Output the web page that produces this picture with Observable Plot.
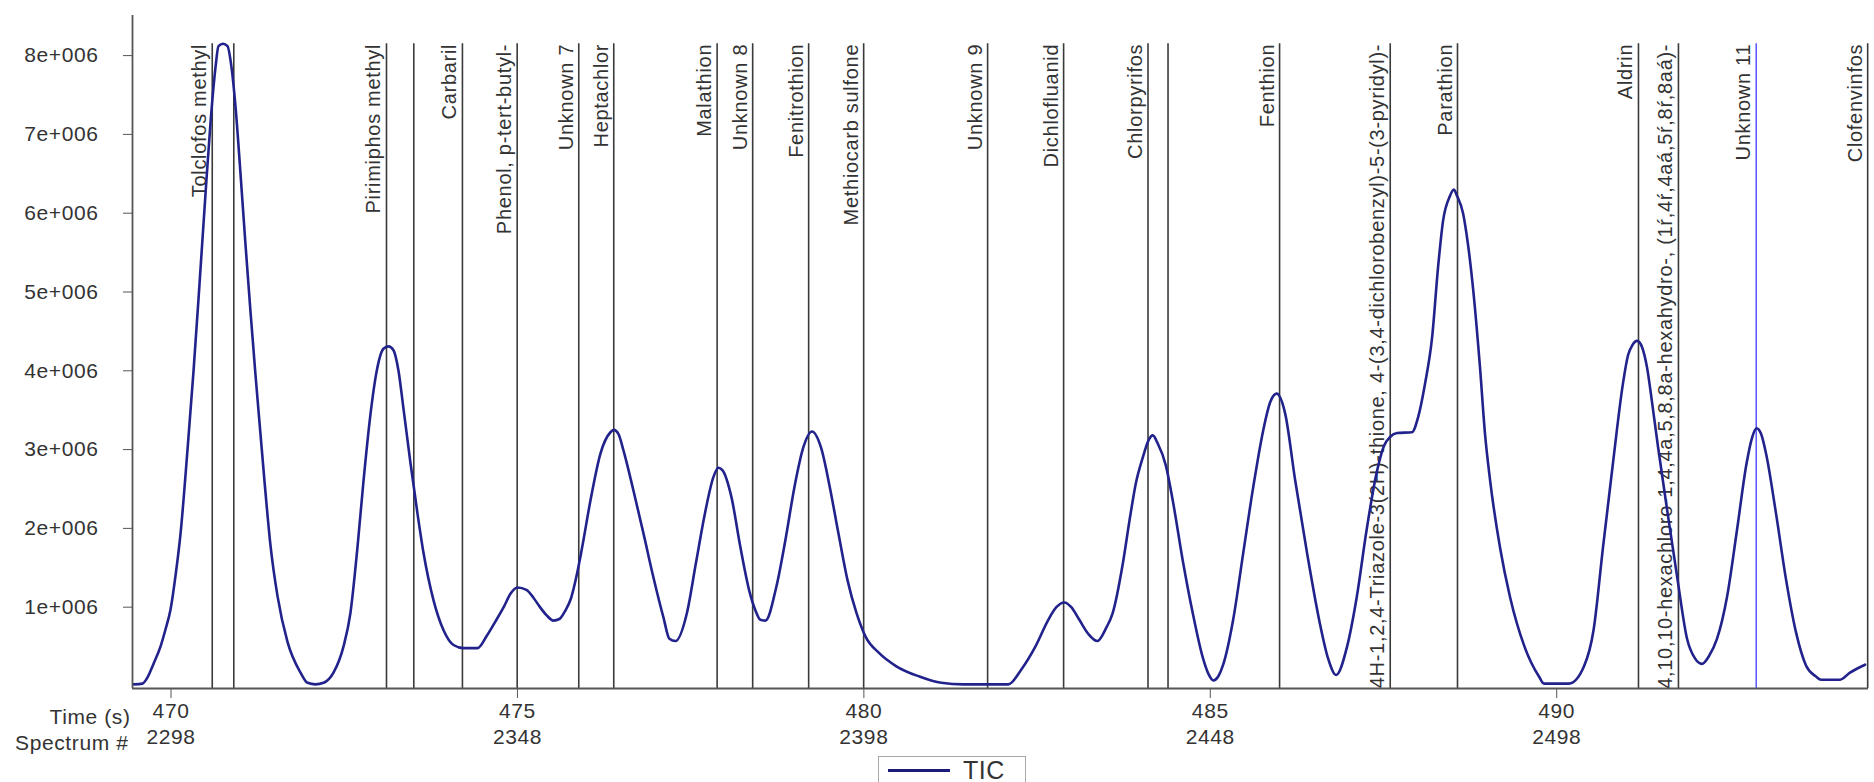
<!DOCTYPE html>
<html>
<head>
<meta charset="utf-8">
<script src="https://cdn.jsdelivr.net/npm/d3@7"></script>
<script src="https://cdn.jsdelivr.net/npm/@observablehq/plot@0.6"></script>
<style>
  html, body { margin: 0; padding: 0; background: #fff; }
  body { width: 1874px; height: 782px; overflow: hidden; position: relative; font-family: "Liberation Sans", Arial, sans-serif; }
  #legend { position: absolute; left: 878px; top: 756px; width: 148px; height: 26px; border: 1px solid #a8a8a8; border-bottom: none; box-sizing: border-box; background: #fff; }
  #legend .swatch { position: absolute; left: 9px; top: 12px; width: 62px; height: 3px; background: #1c1c78; }
  #legend .lbl { position: absolute; left: 84px; top: 2px; font-size: 25px; color: #333; line-height: 22px; letter-spacing: 0.5px; }
</style>
</head>
<body>
<div id="chart"></div>
<div id="legend"><div class="swatch"></div><div class="lbl">TIC</div></div>
<script>
// Time (s) of each sampled point of the TIC trace
const times = [
  469.459,469.589,469.661,469.747,469.848,469.921,469.993,470.065,470.137,470.238,
  470.325,470.411,470.498,470.570,470.642,470.685,470.750,470.815,470.873,470.931,
  471.003,471.075,471.147,471.219,471.291,471.349,471.436,471.537,471.681,471.869,
  471.970,472.085,472.201,472.345,472.489,472.590,472.691,472.778,472.879,472.965,
  473.066,473.139,473.211,473.283,473.355,473.456,473.557,473.644,473.788,473.932,
  474.077,474.221,474.423,474.553,474.683,474.807,474.899,475.000,475.130,475.231,
  475.318,475.418,475.519,475.606,475.693,475.772,475.861,475.934,476.053,476.198,
  476.342,476.390,476.457,476.530,476.674,476.818,476.962,477.107,477.193,477.280,
  477.447,477.576,477.706,477.828,477.900,477.958,478.088,478.218,478.348,478.434,
  478.506,478.579,478.737,478.867,478.997,479.127,479.251,479.380,479.509,479.632,
  479.762,479.892,480.022,480.218,480.469,480.801,481.118,481.436,482.085,482.273,
  482.475,482.662,482.778,482.893,482.994,483.110,483.240,483.369,483.499,483.590,
  483.737,483.834,483.925,484.026,484.110,484.170,484.240,484.358,484.459,484.603,
  484.748,484.892,484.975,485.045,485.120,485.186,485.330,485.474,485.619,485.763,
  485.864,485.958,486.080,486.225,486.398,486.580,486.700,486.816,486.974,487.114,
  487.256,487.399,487.508,487.595,487.696,487.912,487.999,488.100,488.201,488.287,
  488.359,488.460,488.515,488.561,488.648,488.720,488.792,488.893,488.965,489.037,
  489.181,489.326,489.535,489.744,489.816,490.177,490.394,490.532,490.668,490.812,
  490.958,491.030,491.088,491.160,491.232,491.304,491.376,491.463,491.601,491.744,
  491.881,491.996,492.097,492.198,492.314,492.458,492.602,492.741,492.819,492.884,
  492.949,493.021,493.165,493.310,493.454,493.598,493.742,493.815,494.089,494.233,
  494.450
];
// TIC intensity (millions of counts) at each time above
const ticMillions = [
  0.02,0.03,0.11,0.28,0.50,0.72,0.97,1.40,1.93,3.00,
  4.00,5.10,6.25,7.15,7.85,8.12,8.15,8.12,7.85,7.35,
  6.50,5.60,4.75,3.95,3.20,2.60,1.78,1.14,0.56,0.17,
  0.04,0.02,0.04,0.17,0.50,0.93,1.76,2.60,3.45,3.98,
  4.28,4.31,4.26,4.00,3.52,2.83,2.19,1.69,1.09,0.71,
  0.52,0.48,0.48,0.63,0.82,1.01,1.17,1.25,1.22,1.12,
  1.01,0.90,0.83,0.85,0.96,1.11,1.43,1.76,2.35,2.95,
  3.22,3.25,3.20,2.99,2.48,1.94,1.38,0.87,0.60,0.57,
  0.93,1.56,2.19,2.65,2.77,2.74,2.40,1.76,1.20,0.96,
  0.84,0.83,1.26,1.85,2.52,3.03,3.23,3.03,2.52,1.94,
  1.35,0.93,0.63,0.42,0.25,0.12,0.04,0.02,0.02,0.21,
  0.50,0.84,1.00,1.06,1.00,0.84,0.66,0.57,0.74,0.92,
  1.55,2.10,2.57,2.90,3.12,3.18,3.08,2.80,2.35,1.59,
  0.92,0.36,0.15,0.07,0.13,0.27,0.84,1.68,2.52,3.24,
  3.60,3.71,3.46,2.61,1.68,0.80,0.35,0.14,0.50,1.13,
  1.98,2.70,3.05,3.16,3.21,3.22,3.41,3.84,4.42,5.31,
  5.90,6.22,6.30,6.22,6.00,5.60,5.05,4.04,3.20,2.62,
  1.76,1.13,0.50,0.12,0.03,0.03,0.25,0.71,1.76,2.83,
  3.85,4.20,4.32,4.38,4.30,4.04,3.60,3.03,2.19,1.35,
  0.60,0.35,0.28,0.38,0.60,1.13,1.98,2.83,3.15,3.27,
  3.20,2.95,2.19,1.35,0.68,0.26,0.12,0.08,0.08,0.17,
  0.27
];

// Identified compound markers
const markerTimes = [
  470.595, 470.906, 473.110, 473.504, 474.206, 474.996, 475.885, 476.390,
  477.882, 478.395, 479.203, 479.997, 481.786, 482.883, 484.101, 484.390,
  486.000, 487.597, 488.568, 491.180, 491.757, 492.879, 494.488
];
const markerNames = [
  "Tolclofos methyl", "", "Pirimiphos methyl", "", "Carbaril", "Phenol, p-tert-butyl-",
  "Unknown 7", "Heptachlor", "Malathion", "Unknown 8", "Fenitrothion", "Methiocarb sulfone",
  "Unknown 9", "Dichlofluanid", "Chlorpyrifos", "", "Fenthion",
  "4H-1,2,4-Triazole-3(2H)-thione, 4-(3,4-dichlorobenzyl)-5-(3-pyridyl)-",
  "Parathion", "Aldrin",
  "1,4:5,8-Dimethanonaphthalene, 1,2,3,4,10,10-hexachloro-1,4,4a,5,8,8a-hexahydro-, (1ŕ,4ŕ,4aá,5ŕ,8ŕ,8aá)-",
  "Unknown 11", "Clofenvinfos"
];
const selectedMarker = "Unknown 11";

// Axis ticks
const yTicks = [1e6, 2e6, 3e6, 4e6, 5e6, 6e6, 7e6, 8e6];
const yTickLabels = ["1e+006","2e+006","3e+006","4e+006","5e+006","6e+006","7e+006","8e+006"];
const timeTicks = [470, 475, 480, 485, 490];
const spectrumTicks = ["2298", "2348", "2398", "2448", "2498"];

const trace = times.map((t, i) => ({t, v: ticMillions[i] * 1e6}));
const markers = markerTimes.map((t, i) => ({t, name: markerNames[i]}));
const markerTop = d3.max(trace, d => d.v);

const X0 = 469.444, X1 = 494.50;
const Y0 = -32000, Y1 = 8509000;

const chart = Plot.plot({
  width: 1874,
  height: 756,
  marginLeft: 132,
  marginRight: 6,
  marginTop: 15,
  marginBottom: 68,
  x: {domain: [X0, X1]},
  y: {domain: [Y0, Y1]},
  style: {fontFamily: "'Liberation Sans', Arial, sans-serif", fontSize: "21px", color: "#333", background: "white"},
  marks: [
    Plot.ruleX(markers.filter(d => d.name !== selectedMarker), {x: "t", y1: Y0, y2: markerTop, stroke: "#3a3a3a", strokeWidth: 1.6}),
    Plot.ruleX(markers.filter(d => d.name === selectedMarker), {x: "t", y1: Y0, y2: markerTop, stroke: "#3c3cff", strokeWidth: 1.3}),
    Plot.text(markers.filter(d => d.name), {
      x: "t", y: markerTop, text: "name", rotate: -90,
      textAnchor: "end", lineAnchor: "bottom", dx: -6,
      fontSize: 20, fill: "#333", clip: true
    }),
    Plot.line(trace, {x: "t", y: "v", stroke: "#22228c", strokeWidth: 2.6, curve: "monotone-x"}),
    Plot.ruleX([X0], {stroke: "#555", strokeWidth: 1.8}),
    Plot.ruleY([Y0], {stroke: "#555", strokeWidth: 1.8}),
    Plot.axisY({ticks: yTicks, tickFormat: d => yTickLabels[yTicks.indexOf(d)], tickSize: 9, tickPadding: 25, label: null, stroke: "#555", fontSize: 21, fill: "#333"}),
    Plot.axisX({ticks: timeTicks, tickFormat: d => String(d), tickSize: 10, tickPadding: 5, label: null, stroke: "#555", fontSize: 21, fill: "#333"}),
    Plot.axisX({ticks: timeTicks, tickFormat: d => spectrumTicks[timeTicks.indexOf(d)], tickSize: 0, tickPadding: 41, label: null, fontSize: 21, fill: "#333"}),
    Plot.text(["Time (s)"], {frameAnchor: "bottom-left", dx: -2, dy: 29, textAnchor: "end", lineAnchor: "middle", fontSize: 21, fill: "#333"}),
    Plot.text(["Spectrum #"], {frameAnchor: "bottom-left", dx: -4, dy: 55, textAnchor: "end", lineAnchor: "middle", fontSize: 21, fill: "#333"})
  ]
});
// Slightly spaced lettering, as in the original rendering
chart.querySelectorAll("text").forEach(el => {
  const rotated = (el.getAttribute("transform") || "").includes("rotate");
  el.setAttribute("letter-spacing", rotated ? "0.7" : "0.6");
});
document.getElementById("chart").appendChild(chart);
</script>
</body>
</html>
